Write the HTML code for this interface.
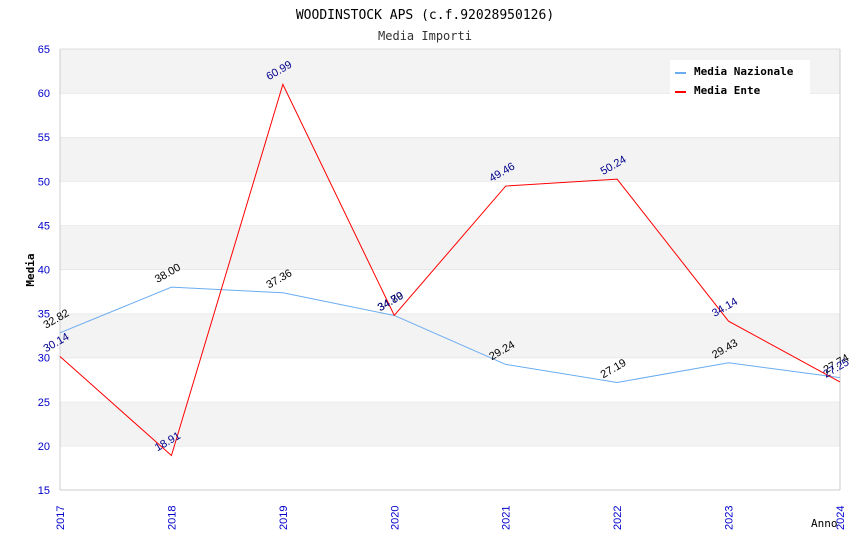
<!DOCTYPE html>
<html><head><meta charset="utf-8"><style>
body{margin:0;background:#fff}
svg{display:block;font-family:"DejaVu Sans Mono","Liberation Mono",monospace}
</style></head><body>
<svg id="c" width="850" height="550">
<text x="425" y="19" text-anchor="middle" font-size="13" fill="#000">WOODINSTOCK APS (c.f.92028950126)</text>
<text x="425" y="40" text-anchor="middle" font-size="12" fill="#333">Media Importi</text>
<g id="bands"></g><g id="yticks"></g><g id="xticks"></g><g id="series"></g>
<text transform="translate(34,270) rotate(-90)" text-anchor="middle" font-size="11" font-weight="bold">Media</text>
<text x="811" y="527" font-size="11">Anno</text>
<g>
<rect x="670" y="60" width="140" height="36" fill="#fff"/>
<line x1="675" y1="73" x2="686" y2="73" stroke="#6aacf0" stroke-width="2"/>
<text x="694" y="75" font-size="11" font-weight="bold">Media Nazionale</text>
<line x1="675" y1="92" x2="686" y2="92" stroke="#f00" stroke-width="2"/>
<text x="694" y="94" font-size="11" font-weight="bold">Media Ente</text>
</g>
</svg>
<script>
const years=["2017","2018","2019","2020","2021","2022","2023","2024"];
const nazionale=[32.82,38.00,37.36,34.79,29.24,27.19,29.43,27.74];
const ente=[30.14,18.91,60.99,34.80,49.46,50.24,34.14,27.25];
const yTicks=[15,20,25,30,35,40,45,50,55,60,65];
const NS="http://www.w3.org/2000/svg";
const L=60,R=840,T=49,B=490;
const x=i=>L+i*(R-L)/(years.length-1);
const y=v=>B-(v-15)/50*(B-T);
function mk(t,a,p){const e=document.createElementNS(NS,t);for(const k in a)e.setAttribute(k,a[k]);document.getElementById(p).appendChild(e);return e;}
for(let i=0;i<yTicks.length-1;i++){
 const r=mk('rect',{x:L,y:y(yTicks[i+1]),width:R-L,height:y(yTicks[i])-y(yTicks[i+1]),fill:(i%2==1)?'#f3f3f3':'#fff'},'bands');
 
 
 const g=mk('line',{x1:L,x2:R,y1:y(yTicks[i+1]),y2:y(yTicks[i+1]),stroke:'#ddd'},'bands');
 
 
}
mk('line',{x1:L,x2:L,y1:T,y2:B,stroke:'#ccc'},'bands');
mk('line',{x1:R,x2:R,y1:T,y2:B,stroke:'#ccc'},'bands');
mk('line',{x1:L,x2:R,y1:B,y2:B,stroke:'#ccc'},'bands');
yTicks.forEach(v=>{const t=mk('text',{x:L-10,y:y(v)+4,'text-anchor':'end','font-size':11,fill:'#00c','font-family':'Liberation Sans, sans-serif'},'yticks');t.textContent=v;
 
 });
years.forEach((yr,i)=>{const t=mk('text',{transform:`translate(${x(i)+4},${B+40}) rotate(-90)`,'font-size':11,fill:'#00c','font-family':'Liberation Sans, sans-serif'},'xticks');t.textContent=yr;
 
 });
function series(d,col,lab,name){
 const p=mk('polyline',{points:d.map((v,i)=>x(i)+','+y(v)).join(' '),fill:'none',stroke:col,'stroke-width':1},'series');
 
 
 d.forEach((v,i)=>{const t=mk('text',{transform:`translate(${x(i)-14},${y(v)-4}) rotate(-30)`,'font-size':11,fill:lab,'font-family':'Liberation Sans, sans-serif'},'series');t.textContent=v.toFixed(2);
  
  });
}
series(nazionale,'#6aacf0','#000','nazionale');
series(ente,'#f00','#00008b','ente');
</script>
</body></html>
